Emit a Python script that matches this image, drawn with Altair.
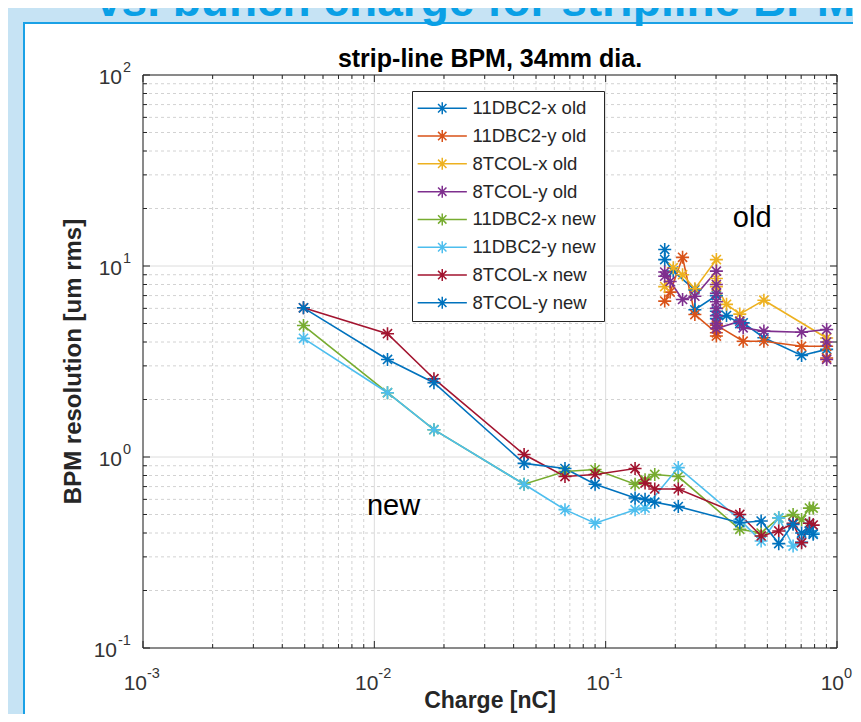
import altair as alt
import pandas as pd

FONT = "Liberation Sans, Arial, Helvetica, sans-serif"
TXT = "#262626"

# ---------------- data ----------------
names = ["11DBC2-x old", "11DBC2-y old", "8TCOL-x old", "8TCOL-y old",
         "11DBC2-x new", "11DBC2-y new", "8TCOL-x new", "8TCOL-y new"]
colors = ["#0072BD", "#D95319", "#EDB120", "#7E2F8E",
          "#77AC30", "#4DBEEE", "#A2142F", "#0072BD"]

x_11x_old = [0.180, 0.180, 0.196, 0.243, 0.243, 0.301, 0.301, 0.301, 0.333, 0.380, 0.393, 0.483, 0.703, 0.902]
y_11x_old = [12.2, 10.8, 9.4, 7.5, 5.9, 7.0, 5.8, 5.3, 5.5, 5.0, 5.04, 4.21, 3.40, 3.66]

x_11y_old = [0.180, 0.190, 0.215, 0.243, 0.301, 0.301, 0.301, 0.393, 0.483, 0.703, 0.902, 0.902]
y_11y_old = [6.55, 7.3, 11.1, 5.57, 4.47, 4.3, 4.9, 4.04, 4.04, 3.80, 3.80, 3.3]

x_8x_old = [0.180, 0.196, 0.215, 0.243, 0.301, 0.301, 0.301, 0.333, 0.380, 0.483, 0.902]
y_8x_old = [7.8, 9.8, 9.0, 7.6, 10.8, 8.6, 7.8, 6.3, 5.6, 6.62, 4.2]

x_8y_old = [0.180, 0.180, 0.190, 0.215, 0.243, 0.301, 0.301, 0.301, 0.301, 0.301, 0.301,
            0.301, 0.301, 0.380, 0.393, 0.483, 0.703, 0.902, 0.902, 0.902]
y_8y_old = [8.84, 9.3, 8.3, 6.68, 6.95, 9.4, 8.0, 7.2, 6.5, 6.0, 5.5, 5.0, 4.7, 5.14, 4.75,
            4.56, 4.5, 4.65, 4.0, 3.24]

x_new = [0.00494, 0.0114, 0.0181, 0.0444, 0.0667, 0.090, 0.134, 0.148, 0.163,
         0.206, 0.380, 0.470, 0.560, 0.646, 0.703, 0.760, 0.789]
y_11x_new = [4.88, 2.17, 1.39, 0.72, 0.84, 0.86, 0.72, 0.76, 0.81, 0.79,
             0.418, 0.40, 0.48, 0.50, 0.47, 0.54, 0.54]
y_8x_new = [6.04, 4.42, 2.57, 1.03, 0.79, 0.81, 0.87, 0.73, 0.68, 0.68,
            0.50, 0.386, 0.41, 0.45, 0.356, 0.45, 0.44]
y_8y_new = [6.04, 3.24, 2.45, 0.926, 0.87, 0.72, 0.61, 0.60, 0.58, 0.55,
            0.453, 0.462, 0.352, 0.444, 0.40, 0.41, 0.394]

x_11y_new = [0.00494, 0.0114, 0.0181, 0.0444, 0.0667, 0.090, 0.134, 0.148,
             0.206, 0.380, 0.470, 0.560, 0.646, 0.703, 0.760, 0.789]
y_11y_new = [4.18, 2.17, 1.39, 0.72, 0.53, 0.45, 0.53, 0.54,
             0.88, 0.47, 0.363, 0.48, 0.342, 0.36, 0.45, 0.40]

x_major = [0.001, 0.01, 0.1, 1.0]
x_exps = ["-3", "-2", "-1", "0"]
y_major = [0.1, 1.0, 10.0, 100.0]
y_exps = ["-1", "0", "1", "2"]
x_minor = [m * d for d in [0.001, 0.01, 0.1] for m in range(2, 10)]
y_minor = [m * d for d in [0.1, 1.0, 10.0] for m in range(2, 10)]

notes = ["old", "new"]
note_x = [0.43, 0.0121]
note_y = [17.9, 0.551]

title_text = "strip-line BPM, 34mm dia."
xlabel = "Charge [nC]"
ylabel = "BPM resolution [um rms]"
slide_title = "vs. bunch charge for stripline BPMs"

# ---------------- table ----------------
series = [
    (names[0], x_11x_old, y_11x_old),
    (names[1], x_11y_old, y_11y_old),
    (names[2], x_8x_old, y_8x_old),
    (names[3], x_8y_old, y_8y_old),
    (names[4], x_new, y_11x_new),
    (names[5], x_11y_new, y_11y_new),
    (names[6], x_new, y_8x_new),
    (names[7], x_new, y_8y_new),
]
rows = []
for s, (n, xs_, ys_) in enumerate(series):
    for i, (a, b) in enumerate(zip(xs_, ys_)):
        rows.append({"series": n, "charge": a, "res": b, "idx": i, "s": s})
df = pd.DataFrame(rows)

W, H = 694, 573
xsc = alt.Scale(type="log", domain=[0.001, 1], nice=False)
ysc = alt.Scale(type="log", domain=[0.1, 100], nice=False)

STAR = "M0,-1V1M-1,0H1M-0.7,-0.7L0.7,0.7M-0.7,0.7L0.7,-0.7"
LEG_SYM = "M-4.1,0H4.1M0,-1V1M-1,0H1M-0.7,-0.7L0.7,0.7M-0.7,0.7L0.7,-0.7"

color = alt.Color(
    "series:N",
    scale=alt.Scale(domain=names, range=colors),
    legend=alt.Legend(
        title=None, orient="none", legendX=269, legendY=16,
        symbolType=LEG_SYM, symbolSize=144, symbolStrokeWidth=1.5,
        symbolOffset=13, labelOffset=21, labelFontSize=18.5, labelFont=FONT,
        labelColor=TXT, padding=8, rowPadding=8.8, strokeColor=TXT,
        fillColor="white", labelLimit=300,
    ),
)

one = pd.DataFrame({"a": [0]})

panel = alt.Chart(one).mark_rect(fill="white", stroke="#1aa1e6", strokeWidth=2).encode(
    x=alt.value(-119), x2=alt.value(W + 200), y=alt.value(-52), y2=alt.value(H + 200))


def vrules(vals, **kw):
    return alt.Chart(pd.DataFrame({"v": vals})).mark_rule(**kw).encode(
        x=alt.X("v:Q", scale=xsc, axis=None), y=alt.value(0), y2=alt.value(H))


def hrules(vals, **kw):
    return alt.Chart(pd.DataFrame({"v": vals})).mark_rule(**kw).encode(
        y=alt.Y("v:Q", scale=ysc, axis=None), x=alt.value(0), x2=alt.value(W))


def xticks(vals, y0, y1):
    return alt.Chart(pd.DataFrame({"v": vals})).mark_rule(color=TXT, strokeWidth=1).encode(
        x=alt.X("v:Q", scale=xsc, axis=None), y=alt.value(y0), y2=alt.value(y1))


def yticks(vals, x0, x1):
    return alt.Chart(pd.DataFrame({"v": vals})).mark_rule(color=TXT, strokeWidth=1).encode(
        y=alt.Y("v:Q", scale=ysc, axis=None), x=alt.value(x0), x2=alt.value(x1))


grid_minor = [
    vrules(x_minor, color="#d2d2d2", strokeWidth=1, strokeDash=[3, 3]),
    hrules(y_minor, color="#d2d2d2", strokeWidth=1, strokeDash=[3, 3]),
]
grid_major = [
    vrules(x_major, color="#dcdcdc", strokeWidth=1),
    hrules(y_major, color="#dcdcdc", strokeWidth=1),
]
ticks = [
    xticks(x_major, H, H - 7), xticks(x_minor, H, H - 4),
    xticks(x_major, 0, 7), xticks(x_minor, 0, 4),
    yticks(y_major, 0, 7), yticks(y_minor, 0, 4),
    yticks(y_major, W, W - 7), yticks(y_minor, W, W - 4),
]
box = alt.Chart(one).mark_rect(fillOpacity=0, stroke=TXT, strokeWidth=1).encode(
    x=alt.value(0), x2=alt.value(W), y=alt.value(0), y2=alt.value(H))

lines = alt.Chart(df).mark_line(strokeWidth=1.6).encode(
    x=alt.X("charge:Q", scale=xsc, axis=None),
    y=alt.Y("res:Q", scale=ysc, axis=None),
    color=color, order=alt.Order("idx:Q"), detail="series:N")
points = alt.Chart(df).mark_point(shape=STAR, size=170, filled=False, strokeWidth=1.6, opacity=1).encode(
    x=alt.X("charge:Q", scale=xsc, axis=None),
    y=alt.Y("res:Q", scale=ysc, axis=None),
    color=color)

# tick labels (10 with superscript exponent)
xl = pd.DataFrame({"v": x_major, "e": x_exps})
yl = pd.DataFrame({"v": y_major, "e": y_exps})
lab = dict(font=FONT, color="#333333", baseline="alphabetic")


def xlabels(flt, dx):
    base = alt.Chart(xl).transform_filter(flt).mark_text(align="right", dx=dx, fontSize=21, **lab).encode(
        x=alt.X("v:Q", scale=xsc, axis=None), y=alt.value(H + 42), text=alt.value("10"))
    ex = alt.Chart(xl).transform_filter(flt).mark_text(align="left", dx=dx, fontSize=14.5, **lab).encode(
        x=alt.X("v:Q", scale=xsc, axis=None), y=alt.value(H + 30), text="e:N")
    return [base, ex]


def ylabels(flt, xr):
    base = alt.Chart(yl).transform_filter(flt).mark_text(align="right", dy=9, fontSize=21, **lab).encode(
        y=alt.Y("v:Q", scale=ysc, axis=None), x=alt.value(xr), text=alt.value("10"))
    ex = alt.Chart(yl).transform_filter(flt).mark_text(align="left", dy=-3, fontSize=14.5, **lab).encode(
        y=alt.Y("v:Q", scale=ysc, axis=None), x=alt.value(xr + 1), text="e:N")
    return [base, ex]


labels = (xlabels("datum.e != '0'", 4) + xlabels("datum.e == '0'", 7)
          + ylabels("datum.e != '-1'", -21) + ylabels("datum.e == '-1'", -26))

ann = alt.Chart(pd.DataFrame({"t": notes, "x": note_x, "y": note_y})).mark_text(
    font=FONT, fontSize=29, color="#000000", align="center", baseline="middle").encode(
    x=alt.X("x:Q", scale=xsc, axis=None), y=alt.Y("y:Q", scale=ysc, axis=None), text="t:N")


def label_text(t, x, y, **kw):
    return alt.Chart(pd.DataFrame({"t": [t]})).mark_text(font=FONT, **kw).encode(
        x=alt.value(x), y=alt.value(y), text="t:N")


texts = [
    label_text(title_text, W / 2, -8, fontSize=25, fontWeight="bold", color="#000000",
               align="center", baseline="alphabetic"),
    label_text(xlabel, W / 2, H + 60, fontSize=23, fontWeight="bold", color=TXT,
               align="center", baseline="alphabetic"),
    label_text(ylabel, -69, H / 2, fontSize=24, fontWeight="bold", color=TXT,
               align="center", baseline="middle", angle=270),
    label_text(slide_title, -47, -59, fontSize=46, fontWeight="bold", color="#0aa0e6",
               align="left", baseline="alphabetic"),
]

chart = alt.layer(
    panel, *grid_minor, *grid_major, *ticks, box, lines, points, *labels, ann, *texts
).properties(
    width=W, height=H,
    autosize=alt.AutoSizeParams(type="none"),
    padding={"left": 135, "top": 67, "right": 16, "bottom": 66},
).configure(background="#c6e3f4").configure_view(strokeWidth=0)

chart.save("out.html", embed_options={"renderer": "svg", "actions": False})
